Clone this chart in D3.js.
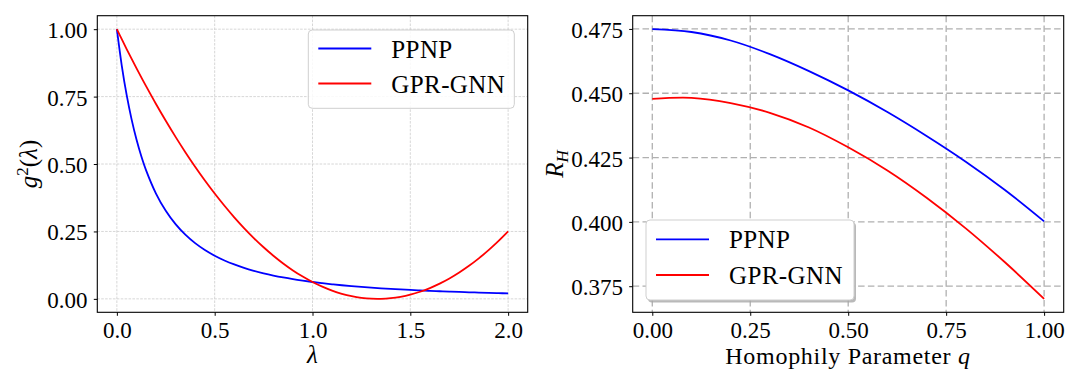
<!DOCTYPE html>
<html>
<head>
<meta charset="utf-8">
<script src="https://cdn.jsdelivr.net/npm/d3@7"></script>
</head>
<body style="margin:0">
<svg class="chart" width="1080" height="386"></svg>
<script>
// left panel: squared filter response against eigenvalue lambda
const lambdas = [0, 0.025, 0.05, 0.075, 0.1, 0.125, 0.15, 0.2, 0.25, 0.3, 0.35, 0.4, 0.45, 0.5,
  0.55, 0.6, 0.65, 0.7, 0.75, 0.8, 0.85, 0.9, 0.95, 1.0, 1.05, 1.1, 1.15, 1.2, 1.25, 1.3,
  1.35, 1.4, 1.45, 1.5, 1.55, 1.6, 1.65, 1.7, 1.75, 1.8, 1.85, 1.9, 1.95, 2.0]
const ppnpGain = [1, 0.8653, 0.7561, 0.6664, 0.5917, 0.5289, 0.4756, 0.3906, 0.3265, 0.277, 0.238, 0.2066, 0.1811, 0.16,
  0.1424, 0.1276, 0.1149, 0.1041, 0.0947, 0.0865, 0.0793, 0.073, 0.0675, 0.0625, 0.0581, 0.0541, 0.0505, 0.0473, 0.0443, 0.0416,
  0.0392, 0.037, 0.0349, 0.0331, 0.0313, 0.0297, 0.0282, 0.0269, 0.0256, 0.0244, 0.0233, 0.0223, 0.0213, 0.0204]
const gprGain = [1, 0.9629, 0.9264, 0.8907, 0.8556, 0.8213, 0.7877, 0.7225, 0.6602, 0.6006, 0.5439, 0.49, 0.4389, 0.3906,
  0.3452, 0.3025, 0.2627, 0.2256, 0.1914, 0.16, 0.1314, 0.1056, 0.0827, 0.0625, 0.0452, 0.0306, 0.0189, 0.01, 0.0039, 0.0006,
  0.0002, 0.0025, 0.0077, 0.0156, 0.0264, 0.04, 0.0564, 0.0756, 0.0977, 0.1225, 0.1502, 0.1806, 0.2139, 0.25]

// right panel: R_H against homophily q
const qValues = [0, 0.1, 0.2, 0.3, 0.4, 0.5, 0.6, 0.7, 0.8, 0.9, 1.0]
const ppnpRH = [0.4749, 0.4738, 0.4705, 0.4652, 0.4586, 0.4511, 0.4427, 0.4334, 0.4234, 0.4124, 0.4002]
const gprRH = [0.4478, 0.4482, 0.4462, 0.4424, 0.4367, 0.429, 0.42, 0.4094, 0.3975, 0.3843, 0.3701]

const seriesNames = ['PPNP', 'GPR-GNN']
const seriesColors = ['#0000ff', '#ff0000']

const lambdaTicks = [0, 0.5, 1, 1.5, 2]
const gainTicks = [0, 0.25, 0.5, 0.75, 1]
const qTicks = [0, 0.25, 0.5, 0.75, 1]
const rhTicks = [0.375, 0.4, 0.425, 0.45, 0.475]

const textFont = '"Liberation Serif", "Times New Roman", monospace'

const chart = d3.select('.chart')

chart.append('rect').attr('width', 1080).attr('height', 386).attr('fill', '#fff')

function padded(ext) {
  // matplotlib style 5% margins
  const m = (ext[1] - ext[0]) * 0.05
  return [ext[0] - m, ext[1] + m]
}

function zipSeries(xs, ys) {
  return xs.map((x, i) => [x, ys[i]])
}

function plot_panel(p) {
  const g = chart.append('g')
  const box = p.box

  const xSc = d3.scaleLinear().domain(padded(d3.extent(p.xs))).range([box.left, box.right])
  const ySc = d3.scaleLinear().domain(padded(d3.extent(p.series.flat()))).range([box.bottom, box.top])

  // grid
  const grid = g.append('g')
    .attr('stroke', p.grid.color)
    .attr('stroke-width', p.grid.width)
    .attr('stroke-dasharray', p.grid.dash)
  grid.selectAll('.vg')
    .data(p.xTicks)
    .enter()
    .append('line')
    .attr('x1', d => xSc(d)).attr('x2', d => xSc(d))
    .attr('y1', box.top).attr('y2', box.bottom)
  grid.selectAll('.hg')
    .data(p.yTicks)
    .enter()
    .append('line')
    .attr('x1', box.left).attr('x2', box.right)
    .attr('y1', d => ySc(d)).attr('y2', d => ySc(d))

  // curves
  const line = d3.line()
    .x(d => xSc(d[0]))
    .y(d => ySc(d[1]))
    .curve(d3.curveCatmullRom)
  g.selectAll('.curve')
    .data(p.series)
    .enter()
    .append('path')
    .attr('d', d => line(zipSeries(p.xs, d)))
    .attr('stroke', (d, i) => seriesColors[i])
    .attr('stroke-width', 1.8)
    .attr('fill', 'none')

  // axes
  const xAxis = g.append('g')
    .attr('transform', `translate(0,${box.bottom})`)
    .call(d3.axisBottom(xSc).tickValues(p.xTicks).tickFormat(d3.format(p.xFmt)).tickSize(3.5).tickSizeOuter(0))
  xAxis.attr('font-family', textFont).attr('font-size', 23)
  xAxis.select('.domain').remove()
  xAxis.selectAll('text')
    .attr('dy', null).attr('y', 26)
    .attr('font-family', textFont).attr('font-size', 23)

  const yAxis = g.append('g')
    .attr('transform', `translate(${box.left},0)`)
    .call(d3.axisLeft(ySc).tickValues(p.yTicks).tickFormat(d3.format(p.yFmt)).tickSize(3.5).tickSizeOuter(0))
  yAxis.attr('font-family', textFont).attr('font-size', 23)
  yAxis.select('.domain').remove()
  yAxis.selectAll('text')
    .attr('dy', null).attr('y', 8.5).attr('x', -9.8)
    .attr('font-family', textFont).attr('font-size', 23)

  g.append('rect')
    .attr('x', box.left).attr('y', box.top)
    .attr('width', box.right - box.left).attr('height', box.bottom - box.top)
    .attr('fill', 'none').attr('stroke', '#000').attr('stroke-width', 1.1)

  // legend
  const lg = p.legend
  const leg = g.append('g').attr('transform', `translate(${lg.x},${lg.y})`)
  if (lg.shadow) {
    leg.append('rect')
      .attr('x', 2).attr('y', 2.5).attr('width', lg.w).attr('height', lg.h)
      .attr('rx', 4).attr('fill', '#a8a8a8').attr('opacity', 0.8)
  }
  leg.append('rect')
    .attr('width', lg.w).attr('height', lg.h).attr('rx', 4)
    .attr('fill', '#fff').attr('fill-opacity', lg.shadow ? 1 : 0.85)
    .attr('stroke', '#cfcfcf').attr('stroke-width', 1)
  const item = leg.selectAll('.item')
    .data(seriesNames)
    .enter()
    .append('g')
    .attr('transform', (d, i) => `translate(0,${lg.row0 + i * lg.rowGap})`)
  item.append('line')
    .attr('x1', 10).attr('x2', 63)
    .attr('stroke', (d, i) => seriesColors[i]).attr('stroke-width', 1.8)
  item.append('text')
    .attr('x', 83).attr('y', 9)
    .attr('font-family', textFont).attr('font-size', 25).attr('letter-spacing', 0.4)
    .text(d => d)

  return g
}

// left panel
const left = plot_panel({
  box: { left: 97.3, right: 527.7, top: 15.7, bottom: 312.3 },
  xs: lambdas,
  series: [ppnpGain, gprGain],
  xTicks: lambdaTicks, yTicks: gainTicks, xFmt: '.1f', yFmt: '.2f',
  grid: { color: '#cdcdcd', width: 0.8, dash: '2.6,1.3' },
  legend: { x: 308.3, y: 30, w: 206, h: 78.3, row0: 18.5, rowGap: 35, shadow: false }
})

left.append('text')
  .attr('transform', 'translate(37,164) rotate(-90)')
  .attr('text-anchor', 'middle')
  .attr('font-family', textFont).attr('font-size', 25)
  .call(t => {
    t.append('tspan').attr('font-style', 'italic').text('g')
    t.append('tspan').attr('dy', -9).attr('font-size', 17).text('2')
    t.append('tspan').attr('dy', 9).text('(')
    t.append('tspan').attr('font-style', 'italic').text('λ')
    t.append('tspan').text(')')
  })

left.append('text')
  .attr('x', 312.5).attr('y', 363)
  .attr('text-anchor', 'middle')
  .attr('font-family', textFont).attr('font-size', 25).attr('font-style', 'italic')
  .text('λ')

// right panel
const right = plot_panel({
  box: { left: 632.7, right: 1063.7, top: 15.7, bottom: 312.3 },
  xs: qValues,
  series: [ppnpRH, gprRH],
  xTicks: qTicks, yTicks: rhTicks, xFmt: '.2f', yFmt: '.3f',
  grid: { color: '#b0b0b0', width: 1.3, dash: '6.5,3.3' },
  legend: { x: 646, y: 220, w: 208, h: 80, row0: 19.3, rowGap: 35.7, shadow: true }
})

right.append('text')
  .attr('transform', 'translate(563,164) rotate(-90)')
  .attr('text-anchor', 'middle')
  .attr('font-family', textFont).attr('font-size', 25)
  .call(t => {
    t.append('tspan').attr('font-style', 'italic').text('R')
    t.append('tspan').attr('dy', 5).attr('font-size', 17).attr('font-style', 'italic').text('H')
  })

right.append('text')
  .attr('x', 848).attr('y', 364)
  .attr('text-anchor', 'middle')
  .attr('font-family', textFont).attr('font-size', 24).attr('letter-spacing', 0.7)
  .call(t => {
    t.append('tspan').text('Homophily Parameter ')
    t.append('tspan').attr('font-style', 'italic').text('q')
  })
</script>
</body>
</html>
